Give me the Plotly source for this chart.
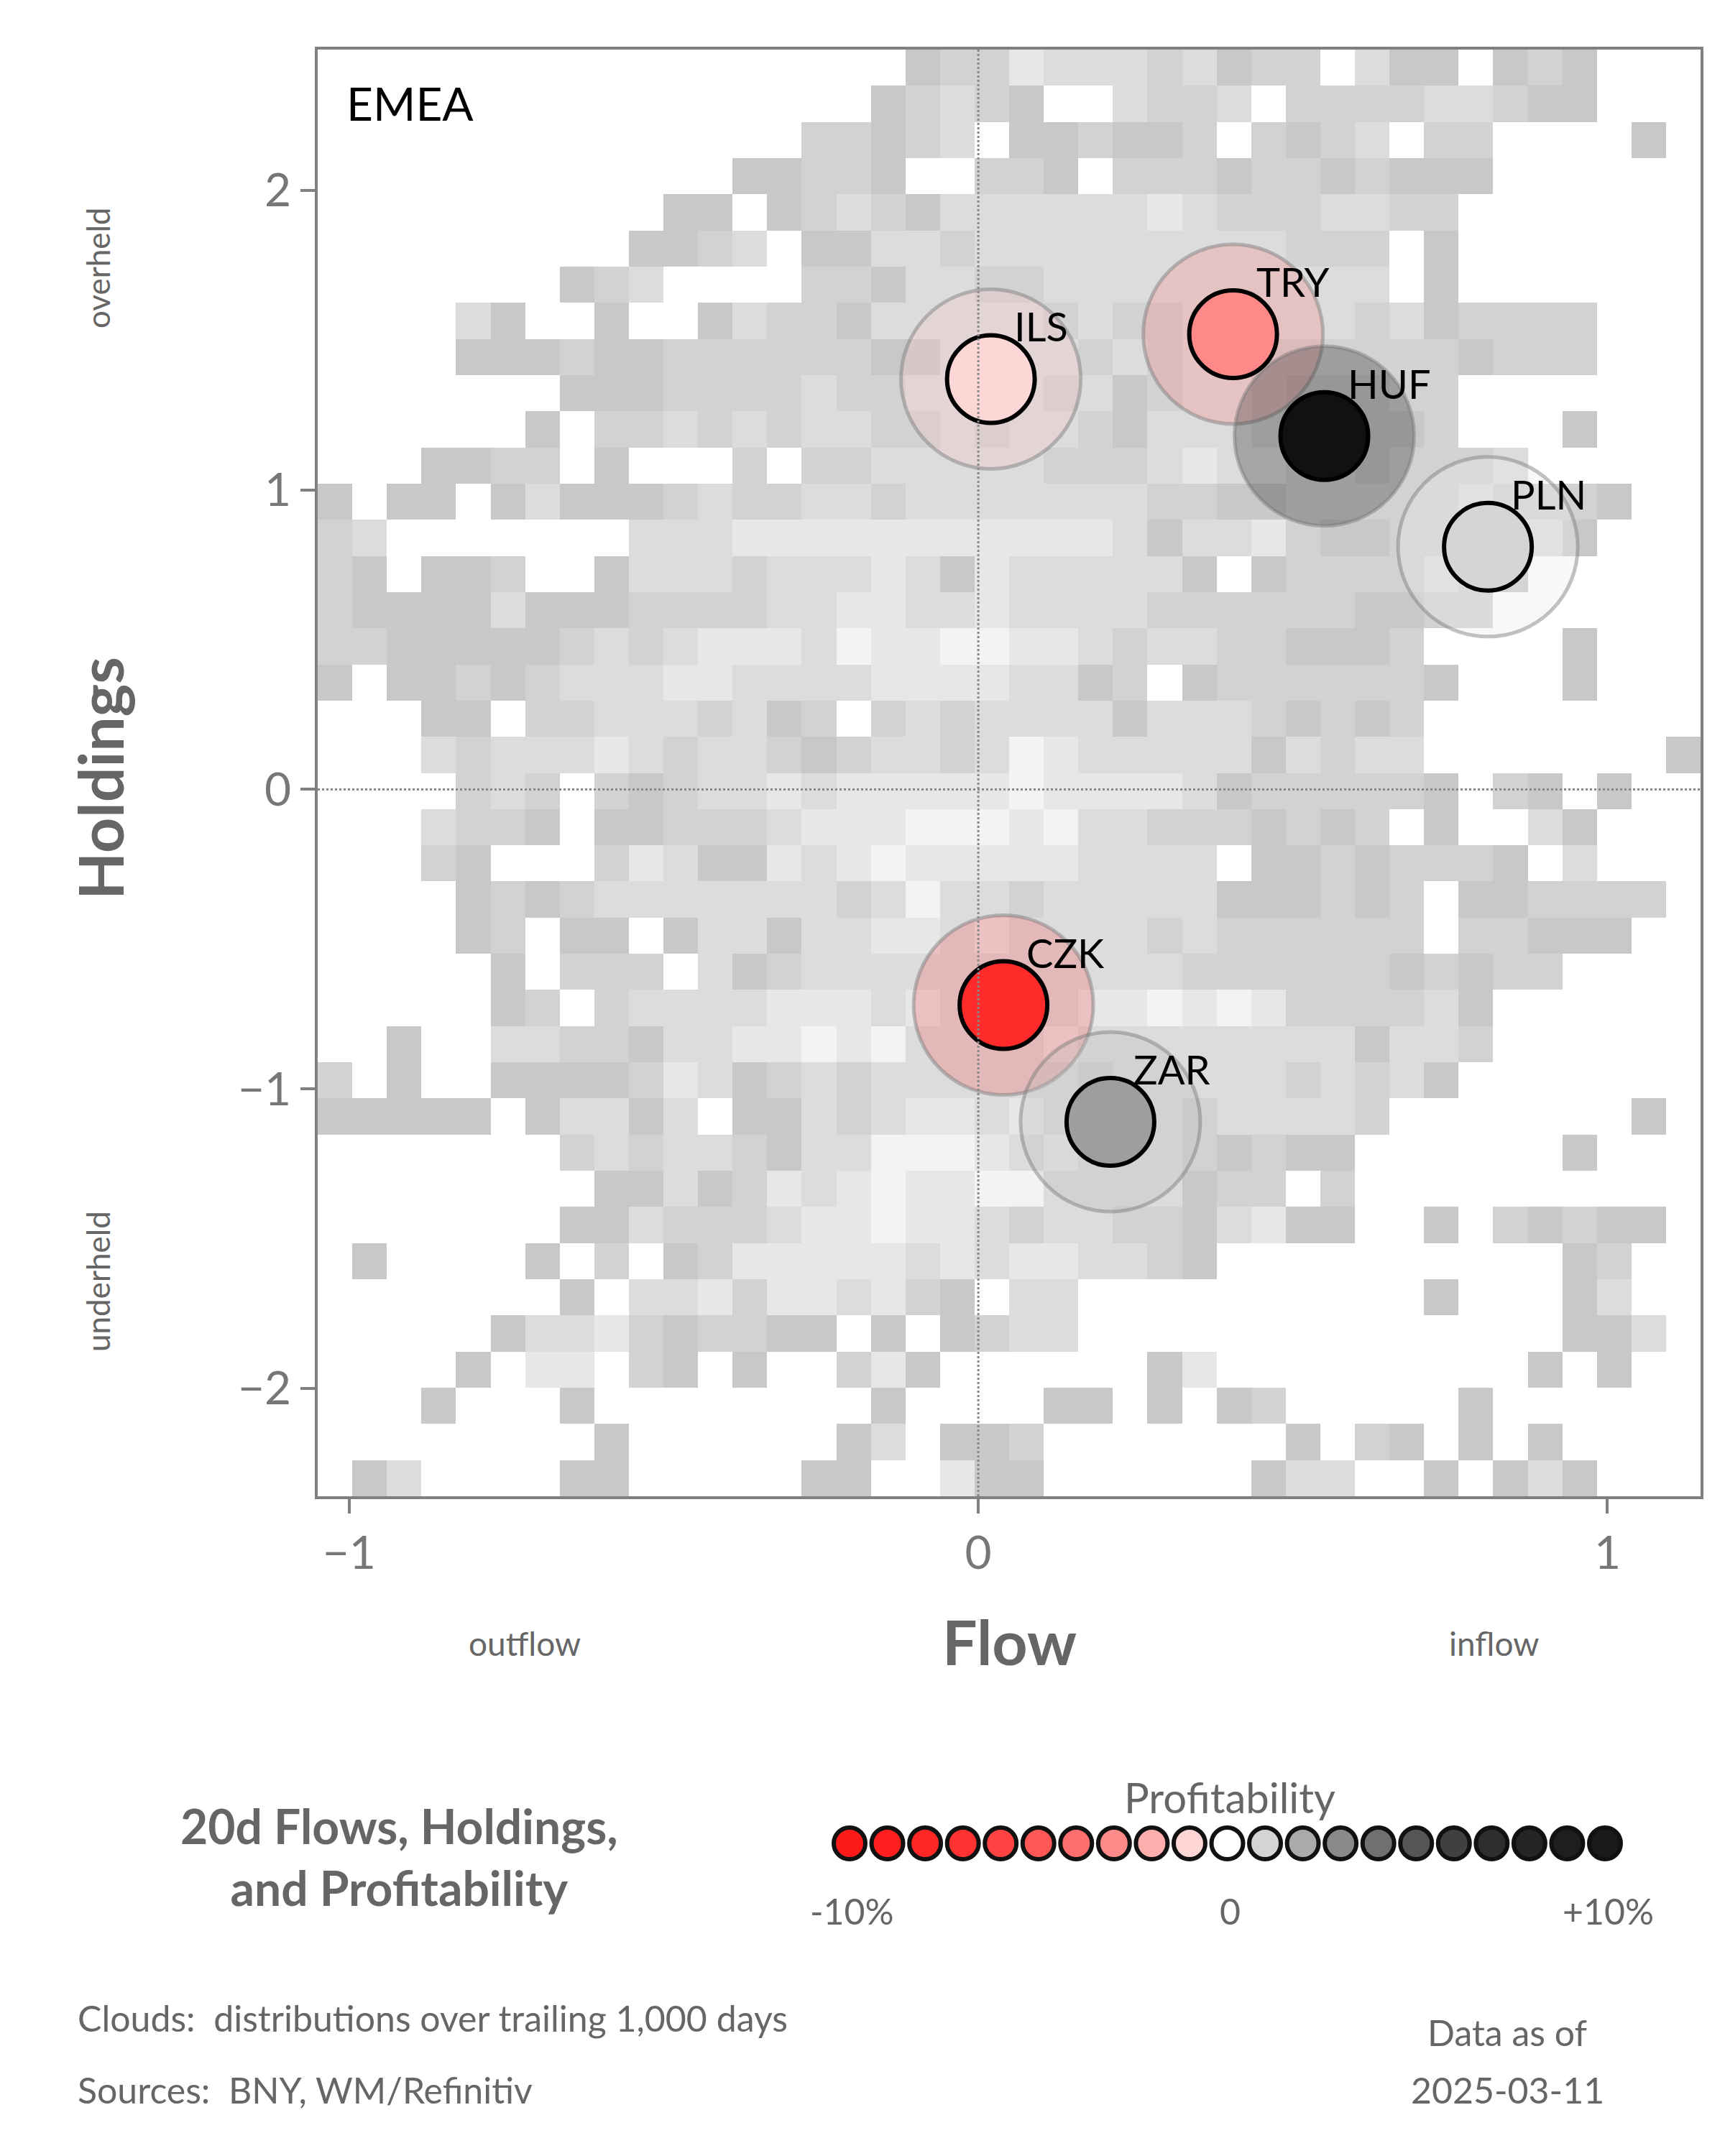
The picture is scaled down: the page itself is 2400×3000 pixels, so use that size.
import numpy as np
import plotly.graph_objects as go

# ---------------- data ----------------
grid_rows = [
"0000000000000000012243332312203121101210000",
]
grid_rows = [
"00000000000000000" + "12243332312203110121000",
"0000000000000000" + "123210032230222233211000",
"00000000000000" + "22123011211202123022000010",
"000000000000" + "1122100221022212212111000000",
"0000000000" + "110123213333334322233220000000",
"000000000" + "1123011332333333333222010000000",
"0000000" + "123000022133223333333333010000000",
"0000" + "310010013221333332322323332312222000",
"0000" + "111211222222113333232322222221222000",
"0000000" + "111222232233332312332111220000000",
"000000" + "1022323233223233213332221120001000",
"000" + "1122010002022333332223433221222300000",
"1011013111232233233333332211222223222100",
"2300000003334444444444431334211223431000",
"2101120013332333431433333101222232100000",
"2111131112222334433433332222221122000000",
"2211111232344435445544323322111200001000",
"1011212333443333444433120122222210001000",
"0001102233323120232333313332121200000000",
"0003233343233212332354333331323300000001",
"0000232021233434444454444312222210210100",
"0003221011222344455545332221212010031000",
"0002100024311434544444333301121222103000",
"0000121233333332353323333311121201122220",
"0000120110133133443433332322222202211100",
"0000010222031233333333333222222121220000",
"0000012023333444343433445454222231000000",
"0010033221334454533334333333331332000000",
"2010011112431232333333233333232310000000",
"1111101331301132344343223233332000000010",
"0000000232332133555434333212110000001000",
"0000000011312434544553333122020000000000",
"0000000113222344544323322134110010212110",
"0100001020124444434344332100000000001200",
"0000000103342443421033000000000010001300",
"0000013342122110101233000000000000001130",
"0000104402101002410000001400000000010100",
"0001000100000000100001101012000001000000",
"0000000010000001301120000000102101010000",
"0130000110000011004110000001330010131000",
]
currencies = ["ILS", "TRY", "HUF", "PLN", "CZK", "ZAR"]
flow = [0.02, 0.405, 0.55, 0.81, 0.04, 0.21]
holdings = [1.37, 1.52, 1.18, 0.81, -0.72, -1.11]
fill_colors = ["#fdd6d6", "#ff8888", "#111111", "#d5d5d5", "#ff2a2a", "#9e9e9e"]
halo_colors = ["rgba(240,200,200,0.35)", "rgba(255,120,120,0.25)", "rgba(40,40,40,0.3)",
               "rgba(235,235,235,0.35)", "rgba(255,60,60,0.22)", "rgba(190,190,190,0.3)"]
prof_values = list(range(-10, 11))
prof_colors = ["#ff1a1a", "#ff1f1f", "#ff2626", "#ff3232", "#ff4242", "#ff5656",
               "#ff6e6e", "#ff8a8a", "#ffaeae", "#ffd6d6", "#ffffff", "#d4d4d4",
               "#aaaaaa", "#8a8a8a", "#707070", "#555555", "#404040", "#2e2e2e",
               "#242424", "#1e1e1e", "#1a1a1a"]
x_ticks = [-1, 0, 1]
y_ticks = [-2, -1, 0, 1, 2]

# ---------------- figure ----------------
W, H = 2400, 3000
FONT = "Lato"
GREY = "#666666"
x0, x1 = -1.05, 1.148
y0, y1 = -2.36, 2.47
ncol, nrow = 40, 40
dx = (x1 - x0) / ncol
dy = (y1 - y0) / nrow

z = []
for r in reversed(grid_rows):
    r = (r + "0" * 40)[:40]
    z.append([None if c == "0" else int(c) for c in r])

fig = go.Figure()
fig.add_trace(go.Heatmap(
    z=z, x0=x0 + dx / 2, dx=dx, y0=y0 + dy / 2, dy=dy,
    zmin=1, zmax=5, showscale=False, hoverinfo="skip",
    colorscale=[[0, "#c8c8c8"], [0.25, "#d2d2d2"], [0.5, "#dcdcdc"], [0.75, "#e7e7e7"], [1, "#f3f3f3"]],
))
fig.add_trace(go.Scatter(
    x=flow, y=holdings, mode="markers", hoverinfo="skip",
    marker=dict(size=250, color=halo_colors, line=dict(color="rgba(120,120,120,0.45)", width=5)),
))
fig.add_trace(go.Scatter(
    x=flow, y=holdings, mode="markers", hoverinfo="skip",
    marker=dict(size=122, color=fill_colors, line=dict(color="black", width=6)),
))
for c, fx, hy in zip(currencies, flow, holdings):
    fig.add_annotation(x=fx, y=hy, text=c, showarrow=False, xanchor="left", yanchor="bottom",
                       xshift=30, yshift=38, font=dict(family=FONT, size=56, color="black"))

# profitability legend
fig.add_trace(go.Scatter(
    x=prof_values, y=[0] * len(prof_values), xaxis="x2", yaxis="y2", mode="markers",
    hoverinfo="skip", cliponaxis=False,
    marker=dict(size=44, color=prof_colors, line=dict(color="#111111", width=6)),
))

plot_dom_x = [434 / W, 2358 / W]
plot_dom_y = [1 - 2074 / H, 1 - 61 / H]
fig.update_layout(
    width=W, height=H, margin=dict(l=0, r=0, t=0, b=0),
    paper_bgcolor="white", plot_bgcolor="white", showlegend=False,
    font=dict(family=FONT, color=GREY),
    xaxis=dict(domain=plot_dom_x, range=[x0, x1], tickvals=x_ticks,
               ticktext=["\u22121", "0", "1"], showgrid=False, zeroline=False,
               showline=True, linecolor="#808080", linewidth=4, mirror=True,
               ticks="outside", ticklen=20, tickwidth=4, tickcolor="#808080",
               tickfont=dict(size=64, color="#777777", family=FONT)),
    yaxis=dict(domain=plot_dom_y, range=[y0, y1], tickvals=y_ticks,
               ticktext=["\u22122", "\u22121", "0", "1", "2"], showgrid=False, zeroline=False,
               showline=True, linecolor="#808080", linewidth=4, mirror=True,
               ticks="outside", ticklen=20, tickwidth=4, tickcolor="#808080",
               tickfont=dict(size=64, color="#777777", family=FONT)),
    xaxis2=dict(domain=[1174 / W, 2225 / W], range=[-10, 10], visible=False),
    yaxis2=dict(domain=[1 - 2580 / H, 1 - 2534 / H], range=[-1, 1], visible=False),
)
fig.add_shape(type="line", x0=0, x1=0, y0=y0, y1=y1, xref="x", yref="y",
              line=dict(color="#888888", width=3, dash="dot"))
fig.add_shape(type="line", x0=x0, x1=x1, y0=0, y1=0, xref="x", yref="y",
              line=dict(color="#888888", width=3, dash="dot"))

def ann(text, px, py, size, color=GREY, bold=False, angle=0, xanchor="center", yanchor="middle"):
    if bold:
        text = "<b>" + text + "</b>"
    fig.add_annotation(x=px / W, y=1 - py / H, xref="paper", yref="paper", text=text,
                       showarrow=False, textangle=angle, xanchor=xanchor, yanchor=yanchor,
                       font=dict(family=FONT, size=size, color=color))

ann("EMEA", 472, 135, 64, color="black", xanchor="left")
ann("Holdings", 130, 1075, 86, bold=True, angle=-90)
ann("overheld", 128, 365, 44, angle=-90)
ann("underheld", 128, 1775, 44, angle=-90)
ann("Flow", 1396, 2275, 86, bold=True)
ann("outflow", 722, 2278, 46)
ann("inflow", 2070, 2278, 46)
ann("20d Flows, Holdings,<br>and Profitability", 547, 2575, 66, bold=True)
ann("Profitability", 1703, 2492, 58)
ann("-10%", 1177, 2651, 50)
ann("0", 1703, 2651, 50)
ann("+10%", 2229, 2651, 50)
ann("Clouds:  distributions over trailing 1,000 days", 98, 2800, 50, xanchor="left")
ann("Sources:  BNY, WM/Refinitiv", 98, 2900, 50, xanchor="left")
ann("Data as of", 2089, 2820, 50)
ann("2025-03-11", 2089, 2900, 50)

fig.write_html("out.html")
